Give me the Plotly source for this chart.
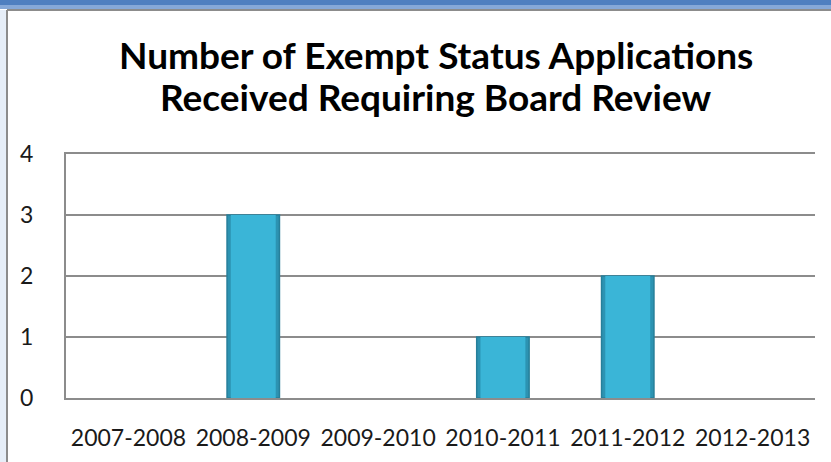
import plotly.graph_objects as go

categories = ["2007-2008", "2008-2009", "2009-2010", "2010-2011", "2011-2012", "2012-2013"]
values = [0, 3, 0, 1, 2, 0]
y_ticks = [0, 1, 2, 3, 4]
title_lines = ["Number of Exempt Status Applications", "Received Requiring Board Review"]

W, H = 831, 462
L, R, T, B = 66, 16, 154, 64
ph = H - T - B
pw = W - L - R

def py(y):  # figure pixel y -> paper y
    return (H - B - y) / ph

def px(x):
    return (x - L) / pw

fig = go.Figure()
fig.add_trace(go.Bar(
    x=categories, y=values, width=0.42,
    marker=dict(color="#2C93B2",
                line=dict(color="#267F9A", width=[0 if v == 0 else 1.5 for v in values])),
    hoverinfo="x+y",
))
fig.add_trace(go.Bar(
    x=categories, y=values, width=0.36,
    marker=dict(color="#3AB5D7", line=dict(width=0)),
    hoverinfo="skip",
))

shapes = [
    dict(type="rect", xref="paper", yref="paper", x0=px(0), x1=px(W), y0=py(0), y1=py(5),
         fillcolor="#4F7FC0", line=dict(width=0), layer="below"),
    dict(type="rect", xref="paper", yref="paper", x0=px(0), x1=px(W), y0=py(5), y1=py(9),
         fillcolor="#86A8D8", line=dict(width=0), layer="below"),
    dict(type="rect", xref="paper", yref="paper", x0=px(0), x1=px(6), y0=py(10), y1=py(H),
         fillcolor="#E6EEF8", line=dict(width=0), layer="below"),
    dict(type="line", xref="paper", yref="paper", x0=px(7), x1=px(W), y0=py(10), y1=py(10),
         line=dict(color="#8C8C8C", width=2)),
    dict(type="line", xref="paper", yref="paper", x0=px(7), x1=px(7), y0=py(10), y1=py(H),
         line=dict(color="#8C8C8C", width=2)),
]

annotations = [
    dict(text=title_lines[0], xref="paper", yref="paper", x=px(436), y=py(54),
         xanchor="center", yanchor="middle", showarrow=False,
         font=dict(family="Lato", size=37, color="black", weight="bold")),
    dict(text=title_lines[1], xref="paper", yref="paper", x=px(436), y=py(96),
         xanchor="center", yanchor="middle", showarrow=False,
         font=dict(family="Lato", size=37, color="black", weight="bold")),
]

fig.update_layout(
    width=W, height=H,
    margin=dict(l=L, r=R, t=T, b=B),
    paper_bgcolor="white", plot_bgcolor="white",
    showlegend=False,
    barmode="overlay",
    shapes=shapes,
    annotations=annotations,
    font=dict(family="Lato", size=23, color="#1a1a1a"),
)
fig.update_yaxes(
    range=[0, 4], tickvals=y_ticks, showgrid=True, gridcolor="#8C8C8C", gridwidth=2,
    showline=True, linecolor="#8C8C8C", linewidth=2, zeroline=False,
    ticks="", ticklabelstandoff=26, fixedrange=True,
)
fig.update_xaxes(showgrid=False, showline=True, mirror=True, linecolor="#8C8C8C", linewidth=2,
                 ticks="", ticklabelstandoff=18, fixedrange=True)

fig.write_html("out.html", config={"displayModeBar": False},
               post_script="document.body.style.margin='0';")
